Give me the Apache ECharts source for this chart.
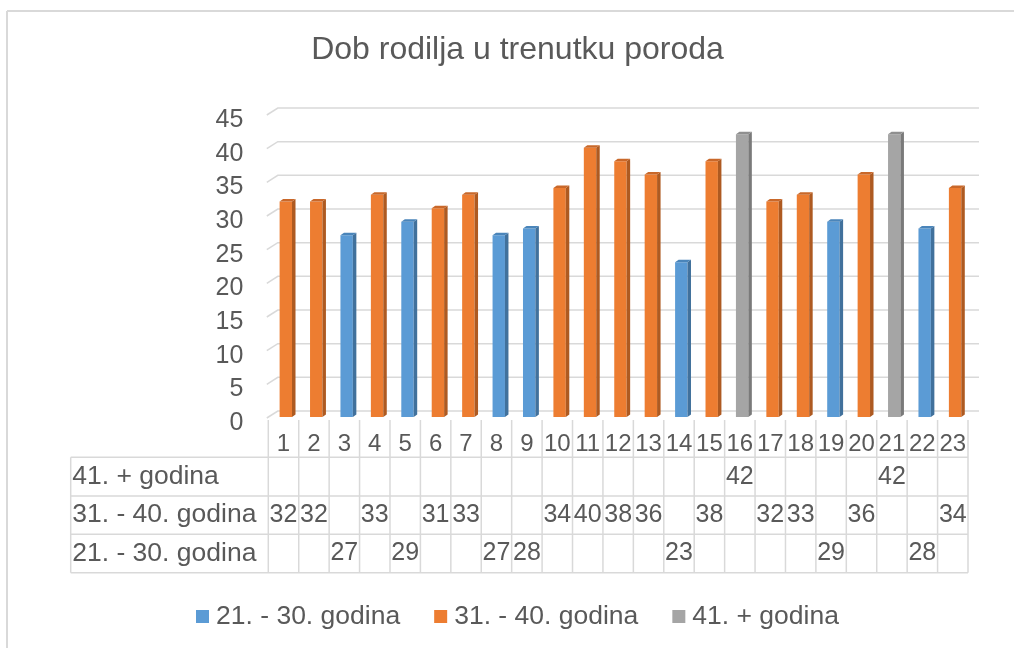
<!DOCTYPE html>
<html>
<head>
<meta charset="utf-8">
<script src="https://cdn.jsdelivr.net/npm/echarts@6/dist/echarts.min.js"></script>
<style>
html,body{margin:0;padding:0;background:#fff;}
#chart{width:1014px;height:648px;}
</style>
</head>
<body>
<div id="chart"></div>
<script>
// ---- data ----
const titleText = 'Dob rodilja u trenutku poroda';
const categories = ['1','2','3','4','5','6','7','8','9','10','11','12','13','14','15','16','17','18','19','20','21','22','23'];
const seriesNames = ['21. - 30. godina', '31. - 40. godina', '41. + godina'];
const age21to30 = [null,null,27,null,29,null,null,27,28,null,null,null,null,23,null,null,null,null,29,null,null,28,null];
const age31to40 = [32,32,null,33,null,31,33,null,null,34,40,38,36,null,38,null,32,33,null,36,null,null,34];
const age41plus = [null,null,null,null,null,null,null,null,null,null,null,null,null,null,null,42,null,null,null,null,42,null,null];
const yTicks = [0,5,10,15,20,25,30,35,40,45];

// ---- style ----
const FONT = "'Liberation Sans', Arial, sans-serif";
const TXT = '#595959';
const LINE = '#d9d9d9';
const colors = ['#5B9BD5', '#ED7D31', '#A5A5A5'];
const sideColors = ['#41719C', '#AE5A21', '#7A7A7A'];
const topColors = ['#4A85BA', '#C9682A', '#8F8F8F'];

// table layout (pixels)
const catRowTop = 420;
const rowTops = [457.3, 496, 534.3];
const tableBottom = 572.7;
const tableLeft = 70.7;

const seriesArrays = [age21to30, age31to40, age41plus];
const tableOrder = [2, 1, 0]; // rows top to bottom

function barRender(k) {
  return function (params, api) {
    const i = api.value(0);
    const v = api.value(1);
    const base = api.coord([i, 0]);
    const top = api.coord([i, v]);
    const c = base[0];
    const xl = c - 3.9, xr = c + 8.5;
    const dx = 3.5, dy = 2.5;
    return {
      type: 'group',
      children: [
        {type: 'rect', shape: {x: xl, y: top[1], width: xr - xl, height: base[1] - top[1]}, style: {fill: colors[k]}},
        {type: 'polygon', shape: {points: [[xr, top[1]], [xr + dx, top[1] - dy], [xr + dx, base[1] - dy], [xr, base[1]]]}, style: {fill: sideColors[k]}},
        {type: 'polygon', shape: {points: [[xl, top[1]], [xl + dx, top[1] - dy], [xr + dx, top[1] - dy], [xr, top[1]]]}, style: {fill: topColors[k]}}
      ]
    };
  };
}

function gridRender(params, api) {
  const cs = params.coordSys;
  const y = api.coord([0, api.value(1)])[1];
  return {
    type: 'polyline',
    shape: {points: [[cs.x - 1.5, y + 1], [cs.x + 9.5, y - 6], [cs.x + cs.width + 11, y - 6]]},
    style: {stroke: LINE, lineWidth: 1.5, fill: null}
  };
}

function tableRender(params, api) {
  const cs = params.coordSys;
  const r = params.dataIndex;
  const k = tableOrder[r];
  const vals = seriesArrays[k];
  const n = categories.length;
  const bw = cs.width / n;
  const yTop = rowTops[r];
  const yBot = r < rowTops.length - 1 ? rowTops[r + 1] : tableBottom;
  const yc = (yTop + yBot) / 2;
  const children = [];
  children.push({type: 'line', shape: {x1: tableLeft, y1: yTop, x2: cs.x + cs.width, y2: yTop}, style: {stroke: LINE, lineWidth: 1.5}});
  if (r === rowTops.length - 1) {
    children.push({type: 'line', shape: {x1: tableLeft, y1: tableBottom, x2: cs.x + cs.width, y2: tableBottom}, style: {stroke: LINE, lineWidth: 1.5}});
  }
  if (r === 0) {
    children.push({type: 'line', shape: {x1: tableLeft, y1: rowTops[0], x2: tableLeft, y2: tableBottom}, style: {stroke: LINE, lineWidth: 1.5}});
    for (let j = 0; j <= n; j++) {
      const x = cs.x + j * bw;
      children.push({type: 'line', shape: {x1: x, y1: catRowTop, x2: x, y2: tableBottom}, style: {stroke: LINE, lineWidth: 1.5}});
    }
  }
  children.push({type: 'text', style: {x: tableLeft + 1.5, y: yc, text: seriesNames[k], fill: TXT, font: '26.5px ' + FONT, textAlign: 'left', textVerticalAlign: 'middle'}});
  for (let i = 0; i < n; i++) {
    if (vals[i] == null) continue;
    const x = api.coord([i, 0])[0];
    children.push({type: 'text', style: {x: x, y: yc, text: String(vals[i]), fill: TXT, font: '25px ' + FONT, textAlign: 'center', textVerticalAlign: 'middle'}});
  }
  return {type: 'group', children: children};
}

const chart = echarts.init(document.getElementById('chart'), null, {renderer: 'canvas'});

const series = [
  {
    name: 'grid', type: 'custom', renderItem: gridRender, z: 1, silent: true,
    data: yTicks.map(v => [0, v]), encode: {x: 0, y: 1}
  },
  {
    name: 'table', type: 'custom', renderItem: tableRender, z: 1, silent: true,
    data: tableOrder.map(() => [0, 0]), encode: {x: 0, y: 1}
  }
];
seriesArrays.forEach((arr, k) => {
  series.push({
    name: seriesNames[k], type: 'custom', renderItem: barRender(k), z: 3,
    itemStyle: {color: colors[k]},
    data: arr.map((v, i) => v == null ? null : [i, v]).filter(d => d),
    encode: {x: 0, y: 1}
  });
});

chart.setOption({
  animation: false,
  backgroundColor: '#ffffff',
  textStyle: {fontFamily: FONT},
  graphic: [
    {type: 'line', shape: {x1: 7, y1: 11, x2: 1014, y2: 11}, style: {stroke: LINE, lineWidth: 2}},
    {type: 'line', shape: {x1: 7, y1: 11, x2: 7, y2: 648}, style: {stroke: LINE, lineWidth: 2}},
    {type: 'text', x: 517.5, y: 50, style: {text: titleText, fill: TXT, font: '32px ' + FONT, textAlign: 'center', textVerticalAlign: 'middle'}}
  ],
  legend: {
    data: seriesNames,
    left: 191, top: 598,
    icon: 'rect', itemWidth: 13, itemHeight: 13, itemGap: 34,
    textStyle: {fontSize: 26.5, color: TXT, fontFamily: FONT, padding: [0, 0, 0, 2]}
  },
  grid: {left: 268.3, right: 46, top: 114, bottom: 231, containLabel: false},
  xAxis: {
    type: 'category', data: categories,
    axisLine: {show: false}, axisTick: {show: false}, splitLine: {show: false},
    axisLabel: {fontSize: 24, color: TXT, fontFamily: FONT, margin: 15, interval: 0}
  },
  yAxis: {
    type: 'value', min: 0, max: 45, interval: 5,
    axisLine: {show: false}, axisTick: {show: false}, splitLine: {show: false},
    axisLabel: {fontSize: 25, color: TXT, fontFamily: FONT, margin: 25, verticalAlign: 'top', lineHeight: 12}
  },
  series: series
});
</script>
</body>
</html>
